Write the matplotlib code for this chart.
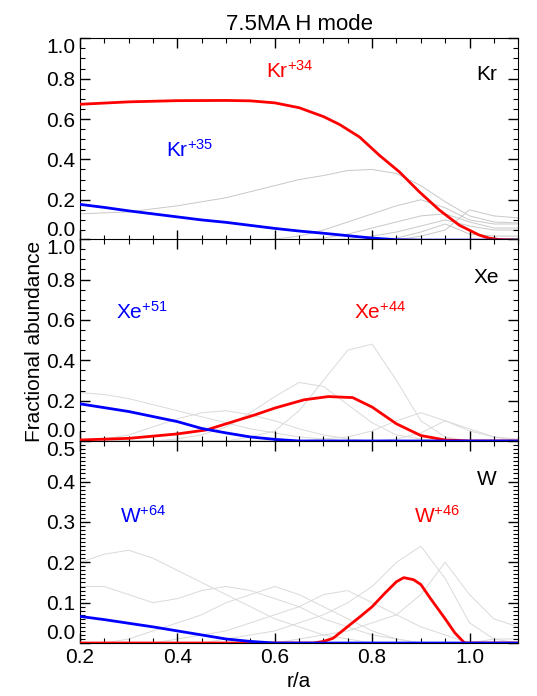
import numpy as np
import matplotlib.pyplot as plt
from matplotlib.ticker import MultipleLocator

plt.rcParams['font.family'] = ['Liberation Sans', 'DejaVu Sans']
plt.rcParams['mathtext.fontset'] = 'custom'
plt.rcParams['mathtext.rm'] = 'Liberation Sans'
plt.rcParams['mathtext.default'] = 'regular'

# radial grid r/a
x = [0.2, 0.25, 0.3, 0.35, 0.4, 0.45, 0.5, 0.55, 0.6, 0.65,
     0.7, 0.75, 0.8, 0.85, 0.9, 0.95, 1.0, 1.05, 1.1]

# Kr panel
kr34_x = [0.2, 0.3, 0.4, 0.5, 0.55, 0.6, 0.65, 0.7, 0.733, 0.774, 0.815,
          0.856, 0.897, 0.938, 0.979, 1.02, 1.04, 1.06, 1.1]
kr34 = [0.673, 0.685, 0.691, 0.692, 0.69, 0.68, 0.656, 0.612, 0.573, 0.511,
        0.42, 0.338, 0.239, 0.149, 0.074, 0.025, 0.01, 0.003, 0.0]
kr35 = [0.177, 0.162, 0.145, 0.13, 0.115, 0.10, 0.088, 0.073, 0.058, 0.045,
        0.034, 0.022, 0.01, 0.002, 0.0, 0.0, 0.0, 0.0, 0.0]
kr_gray = [
    [0.13, 0.135, 0.14, 0.155, 0.17, 0.19, 0.21, 0.24, 0.27, 0.30,
     0.32, 0.345, 0.35, 0.33, 0.27, 0.19, 0.12, 0.09, 0.085],
    [0.0, 0.0, 0.0, 0.0, 0.0, 0.0, 0.0, 0.0, 0.005, 0.02,
     0.05, 0.09, 0.13, 0.17, 0.20, 0.16, 0.10, 0.08, 0.08],
    [0.0, 0.0, 0.0, 0.0, 0.0, 0.0, 0.0, 0.0, 0.0, 0.0,
     0.01, 0.03, 0.06, 0.09, 0.12, 0.13, 0.09, 0.06, 0.06],
    [0.0, 0.0, 0.0, 0.0, 0.0, 0.0, 0.0, 0.0, 0.0, 0.0,
     0.0, 0.005, 0.02, 0.04, 0.07, 0.10, 0.07, 0.05, 0.05],
    [0.0, 0.0, 0.0, 0.0, 0.0, 0.0, 0.0, 0.0, 0.0, 0.0,
     0.0, 0.0, 0.0, 0.0, 0.02, 0.05, 0.15, 0.12, 0.11],
    [0.0, 0.0, 0.0, 0.0, 0.0, 0.0, 0.0, 0.0, 0.0, 0.0,
     0.0, 0.0, 0.0, 0.01, 0.04, 0.08, 0.03, 0.02, 0.02],
    [0.0, 0.0, 0.0, 0.0, 0.0, 0.0, 0.0, 0.0, 0.0, 0.0,
     0.0, 0.0, 0.0, 0.0, 0.0, 0.0, 0.0, 0.0, 0.0],
]

# Xe panel
xe44_x = [0.2, 0.3, 0.4, 0.46, 0.5, 0.56, 0.6, 0.66, 0.71, 0.76, 0.8,
          0.85, 0.9, 0.95, 1.0, 1.1]
xe44 = [0.005, 0.013, 0.035, 0.055, 0.085, 0.13, 0.163, 0.204, 0.22, 0.215,
        0.168, 0.085, 0.027, 0.005, 0.0, 0.0]
xe51 = [0.184, 0.165, 0.146, 0.121, 0.096, 0.062, 0.04, 0.02, 0.008, 0.0,
        0.0, 0.0, 0.0, 0.0, 0.0, 0.0, 0.0, 0.0, 0.0]
xe_gray = [
    [0.0, 0.0, 0.0, 0.0, 0.0, 0.0, 0.0, 0.02, 0.05, 0.15,
     0.30, 0.45, 0.48, 0.30, 0.10, 0.02, 0.0, 0.0, 0.0],
    [0.24, 0.23, 0.21, 0.18, 0.15, 0.12, 0.09, 0.06, 0.04, 0.02,
     0.01, 0.0, 0.0, 0.0, 0.0, 0.0, 0.0, 0.0, 0.0],
    [0.0, 0.01, 0.03, 0.07, 0.11, 0.14, 0.15, 0.13, 0.10, 0.06,
     0.03, 0.01, 0.0, 0.0, 0.0, 0.0, 0.0, 0.0, 0.0],
    [0.0, 0.0, 0.0, 0.0, 0.01, 0.03, 0.07, 0.14, 0.22, 0.29,
     0.27, 0.18, 0.09, 0.03, 0.01, 0.0, 0.0, 0.0, 0.0],
    [0.0, 0.0, 0.0, 0.0, 0.0, 0.0, 0.0, 0.0, 0.0, 0.0,
     0.01, 0.02, 0.05, 0.10, 0.14, 0.10, 0.06, 0.02, 0.0],
    [0.0, 0.0, 0.0, 0.0, 0.0, 0.0, 0.0, 0.0, 0.0, 0.0,
     0.0, 0.0, 0.0, 0.01, 0.04, 0.10, 0.05, 0.02, 0.01],
]

# W panel
w46_x = [0.2, 0.68, 0.7, 0.72, 0.75, 0.775, 0.8, 0.825, 0.85, 0.865, 0.885,
         0.9, 0.92, 0.95, 0.97, 0.99, 1.1]
w46 = [0.0, 0.0, 0.004, 0.012, 0.041, 0.065, 0.09, 0.122, 0.152, 0.162, 0.157,
       0.145, 0.11, 0.06, 0.025, 0.0, 0.0]
w64 = [0.066, 0.058, 0.049, 0.04, 0.03, 0.02, 0.01, 0.004, 0.0, 0.0,
       0.0, 0.0, 0.0, 0.0, 0.0, 0.0, 0.0, 0.0, 0.0]
w_gray = [
    [0.20, 0.22, 0.23, 0.21, 0.18, 0.15, 0.12, 0.09, 0.06, 0.04,
     0.02, 0.01, 0.0, 0.0, 0.0, 0.0, 0.0, 0.0, 0.0],
    [0.14, 0.14, 0.12, 0.10, 0.11, 0.13, 0.14, 0.13, 0.11, 0.09,
     0.06, 0.04, 0.02, 0.01, 0.0, 0.0, 0.0, 0.0, 0.0],
    [0.0, 0.0, 0.01, 0.03, 0.05, 0.07, 0.10, 0.12, 0.14, 0.12,
     0.09, 0.06, 0.03, 0.01, 0.0, 0.0, 0.0, 0.0, 0.0],
    [0.0, 0.0, 0.0, 0.0, 0.01, 0.02, 0.03, 0.05, 0.07, 0.09,
     0.12, 0.13, 0.10, 0.07, 0.04, 0.02, 0.0, 0.0, 0.0],
    [0.0, 0.0, 0.0, 0.0, 0.0, 0.0, 0.01, 0.02, 0.03, 0.05,
     0.07, 0.10, 0.14, 0.20, 0.24, 0.16, 0.05, 0.01, 0.0],
    [0.0, 0.0, 0.0, 0.0, 0.0, 0.0, 0.0, 0.0, 0.0, 0.01,
     0.02, 0.03, 0.05, 0.07, 0.12, 0.20, 0.12, 0.06, 0.04],
    [0.0, 0.0, 0.0, 0.0, 0.0, 0.0, 0.0, 0.0, 0.0, 0.0,
     0.0, 0.0, 0.0, 0.0, 0.0, 0.0, 0.0, 0.01, 0.01],
]

panels = [
    dict(ymax=1.0, major=0.2, minor=0.05, gray=kr_gray, gray_c='#c8c8c8',
         red_x=kr34_x, red=kr34, blue=kr35, name='Kr', name_y=0.82,
         red_lab=('Kr$^{+34}$', 0.631, 0.84), blue_lab=('Kr$^{+35}$', 0.426, 0.445)),
    dict(ymax=1.0, major=0.2, minor=0.05, gray=xe_gray, gray_c='#dadada',
         red_x=xe44_x, red=xe44, blue=xe51, name='Xe', name_y=0.81,
         red_lab=('Xe$^{+44}$', 0.817, 0.64), blue_lab=('Xe$^{+51}$', 0.327, 0.64)),
    dict(ymax=0.5, major=0.1, minor=0.01, gray=w_gray, gray_c='#dadada',
         red_x=w46_x, red=w46, blue=w64, name='W', name_y=0.405,
         red_lab=('W$^{+46}$', 0.933, 0.316), blue_lab=('W$^{+64}$', 0.329, 0.316)),
]

fig = plt.figure(figsize=(5.37, 6.96), dpi=100)
bottoms = [0.655, 0.3664, 0.0761]
height = 0.290

for k, p in enumerate(panels):
    ax = fig.add_axes([0.149, bottoms[k], 0.816, height])
    for g in p['gray']:
        ax.plot(x, g, color=p['gray_c'], lw=0.7, zorder=1)
    ax.plot(p['red_x'], p['red'], color='red', lw=2, zorder=3)
    ax.plot(x, p['blue'], color='blue', lw=2, zorder=3)
    ax.set_xlim(0.2, 1.1)
    ax.set_ylim(0, p['ymax'])
    ax.xaxis.set_major_locator(MultipleLocator(0.2))
    ax.xaxis.set_minor_locator(MultipleLocator(0.05))
    yt = np.round(np.arange(0, p['ymax'] + 1e-6, p['major']), 2)
    ax.set_yticks(yt)
    ax.set_yticklabels(['%.1f' % v for v in yt])
    ax.yaxis.set_minor_locator(MultipleLocator(p['minor']))
    ax.tick_params(which='both', direction='in', top=True, right=True, labelsize=15)
    ax.tick_params(which='major', length=7, width=1)
    ax.tick_params(which='minor', length=3.5, width=0.8)
    labs = ax.get_yticklabels()
    labs[0].set_verticalalignment('bottom')
    labs[-1].set_verticalalignment('top')
    if k < 2:
        ax.tick_params(labelbottom=False)
    else:
        ax.xaxis.set_major_formatter(plt.FormatStrFormatter('%.1f'))
        ax.set_xlabel('r/a', fontsize=15, labelpad=4)
    ax.text(1.035, p['name_y'], p['name'], fontsize=15, ha='center', va='center')
    t, tx, ty = p['red_lab']
    ax.text(tx, ty, t, color='red', fontsize=15, ha='center', va='center')
    t, tx, ty = p['blue_lab']
    ax.text(tx, ty, t, color='blue', fontsize=15, ha='center', va='center')
    if k == 0:
        ax.set_title('7.5MA H mode', fontsize=16, pad=6)

fig.text(0.065, 0.51, 'Fractional abundance', rotation=90, fontsize=15,
         ha='center', va='center')

fig.savefig('out.png', dpi=100)
